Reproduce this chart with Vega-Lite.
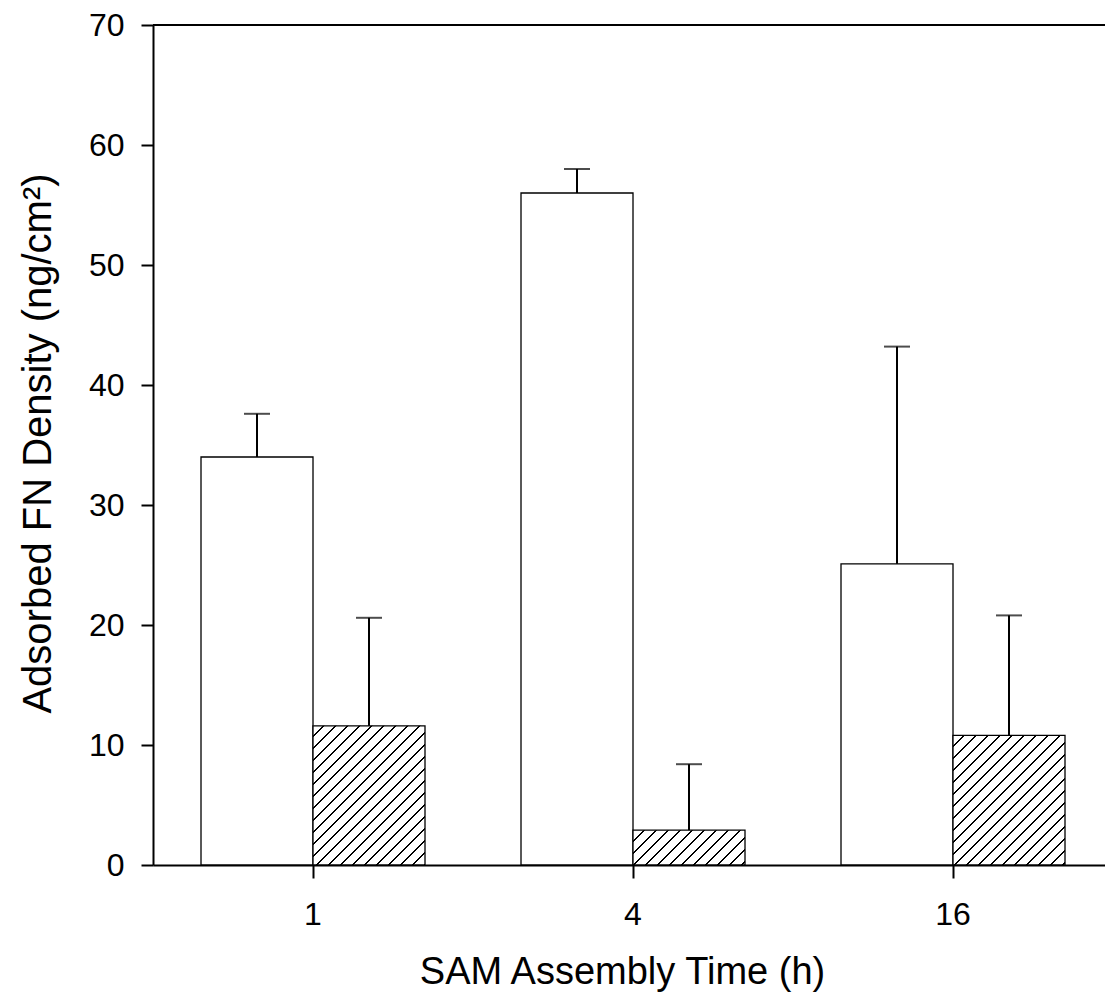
{
  "$schema": "https://vega.github.io/schema/vega-lite/v6.json",
  "width": 952,
  "height": 840,
  "autosize": "none",
  "padding": {"left": 153, "top": 25, "right": 0, "bottom": 130},
  "background": "white",
  "config": {
    "view": {"stroke": null},
    "axis": {"labelFont": "Liberation Sans", "titleFont": "Liberation Sans", "titleFontWeight": "normal", "labelColor": "black", "titleColor": "black", "domainColor": "black", "tickColor": "black", "grid": false}
  },
  "data": {"values": [
    {"time": "1", "group": "A", "value": 34.0, "upper": 37.6},
    {"time": "1", "group": "B", "value": 11.6, "upper": 20.6},
    {"time": "4", "group": "A", "value": 56.0, "upper": 58.0},
    {"time": "4", "group": "B", "value": 2.9, "upper": 8.4},
    {"time": "16", "group": "A", "value": 25.1, "upper": 43.2},
    {"time": "16", "group": "B", "value": 10.8, "upper": 20.8}
  ]},
  "layer": [
    {
      "mark": {"type": "bar", "stroke": "black", "strokeWidth": 1.3},
      "encoding": {
        "x": {"field": "time", "type": "nominal", "sort": ["1", "4", "16"],
          "scale": {"type": "band", "paddingInner": 0.3, "paddingOuter": 0.1375, "align": 0.5455},
          "axis": {"title": "SAM Assembly Time (h)", "labelAngle": 0, "labelFontSize": 32, "labelPadding": 21, "tickSize": 13, "tickWidth": 2, "domainWidth": 2, "titleFontSize": 38, "titleX": 469, "titleY": 118, "titleBaseline": "alphabetic", "titleAlign": "center"}},
        "xOffset": {"field": "group", "type": "nominal", "scale": {"paddingInner": 0, "paddingOuter": 0}},
        "y": {"field": "value", "type": "quantitative",
          "scale": {"domain": [0, 70], "nice": false},
          "axis": {"title": "Adsorbed FN Density (ng/cm²)", "values": [0, 10, 20, 30, 40, 50, 60, 70], "labelFontSize": 32, "labelPadding": 17, "tickSize": 12, "tickWidth": 2, "domainWidth": 2, "titleFontSize": 40, "titleX": -103, "titleY": 418, "titleBaseline": "alphabetic", "titleAlign": "center", "titleAngle": -90}},
        "fill": {
          "condition": [
            {"test": "datum.group == 'B' && datum.time == '1'", "value": {"gradient": "linear", "x1": 0, "y1": 0, "x2": 0.9263, "y2": 1.1513, "stops": [{"offset":0,"color":"white"},{"offset":0.03788,"color":"white"},{"offset":0.03788,"color":"black"},{"offset":0.04545,"color":"black"},{"offset":0.04545,"color":"white"},{"offset":0.08333,"color":"white"},{"offset":0.08333,"color":"black"},{"offset":0.09091,"color":"black"},{"offset":0.09091,"color":"white"},{"offset":0.12879,"color":"white"},{"offset":0.12879,"color":"black"},{"offset":0.13636,"color":"black"},{"offset":0.13636,"color":"white"},{"offset":0.17424,"color":"white"},{"offset":0.17424,"color":"black"},{"offset":0.18182,"color":"black"},{"offset":0.18182,"color":"white"},{"offset":0.2197,"color":"white"},{"offset":0.2197,"color":"black"},{"offset":0.22727,"color":"black"},{"offset":0.22727,"color":"white"},{"offset":0.26515,"color":"white"},{"offset":0.26515,"color":"black"},{"offset":0.27273,"color":"black"},{"offset":0.27273,"color":"white"},{"offset":0.31061,"color":"white"},{"offset":0.31061,"color":"black"},{"offset":0.31818,"color":"black"},{"offset":0.31818,"color":"white"},{"offset":0.35606,"color":"white"},{"offset":0.35606,"color":"black"},{"offset":0.36364,"color":"black"},{"offset":0.36364,"color":"white"},{"offset":0.40152,"color":"white"},{"offset":0.40152,"color":"black"},{"offset":0.40909,"color":"black"},{"offset":0.40909,"color":"white"},{"offset":0.44697,"color":"white"},{"offset":0.44697,"color":"black"},{"offset":0.45455,"color":"black"},{"offset":0.45455,"color":"white"},{"offset":0.49242,"color":"white"},{"offset":0.49242,"color":"black"},{"offset":0.5,"color":"black"},{"offset":0.5,"color":"white"},{"offset":0.53788,"color":"white"},{"offset":0.53788,"color":"black"},{"offset":0.54545,"color":"black"},{"offset":0.54545,"color":"white"},{"offset":0.58333,"color":"white"},{"offset":0.58333,"color":"black"},{"offset":0.59091,"color":"black"},{"offset":0.59091,"color":"white"},{"offset":0.62879,"color":"white"},{"offset":0.62879,"color":"black"},{"offset":0.63636,"color":"black"},{"offset":0.63636,"color":"white"},{"offset":0.67424,"color":"white"},{"offset":0.67424,"color":"black"},{"offset":0.68182,"color":"black"},{"offset":0.68182,"color":"white"},{"offset":0.7197,"color":"white"},{"offset":0.7197,"color":"black"},{"offset":0.72727,"color":"black"},{"offset":0.72727,"color":"white"},{"offset":0.76515,"color":"white"},{"offset":0.76515,"color":"black"},{"offset":0.77273,"color":"black"},{"offset":0.77273,"color":"white"},{"offset":0.81061,"color":"white"},{"offset":0.81061,"color":"black"},{"offset":0.81818,"color":"black"},{"offset":0.81818,"color":"white"},{"offset":0.85606,"color":"white"},{"offset":0.85606,"color":"black"},{"offset":0.86364,"color":"black"},{"offset":0.86364,"color":"white"},{"offset":0.90152,"color":"white"},{"offset":0.90152,"color":"black"},{"offset":0.90909,"color":"black"},{"offset":0.90909,"color":"white"},{"offset":0.94697,"color":"white"},{"offset":0.94697,"color":"black"},{"offset":0.95455,"color":"black"},{"offset":0.95455,"color":"white"},{"offset":0.99242,"color":"white"},{"offset":0.99242,"color":"black"},{"offset":1,"color":"black"}]}},
            {"test": "datum.group == 'B' && datum.time == '4'", "value": {"gradient": "linear", "x1": 0, "y1": 0, "x2": 2.1497, "y2": 0.6679, "stops": [{"offset":0,"color":"white"},{"offset":0.03788,"color":"white"},{"offset":0.03788,"color":"black"},{"offset":0.04545,"color":"black"},{"offset":0.04545,"color":"white"},{"offset":0.08333,"color":"white"},{"offset":0.08333,"color":"black"},{"offset":0.09091,"color":"black"},{"offset":0.09091,"color":"white"},{"offset":0.12879,"color":"white"},{"offset":0.12879,"color":"black"},{"offset":0.13636,"color":"black"},{"offset":0.13636,"color":"white"},{"offset":0.17424,"color":"white"},{"offset":0.17424,"color":"black"},{"offset":0.18182,"color":"black"},{"offset":0.18182,"color":"white"},{"offset":0.2197,"color":"white"},{"offset":0.2197,"color":"black"},{"offset":0.22727,"color":"black"},{"offset":0.22727,"color":"white"},{"offset":0.26515,"color":"white"},{"offset":0.26515,"color":"black"},{"offset":0.27273,"color":"black"},{"offset":0.27273,"color":"white"},{"offset":0.31061,"color":"white"},{"offset":0.31061,"color":"black"},{"offset":0.31818,"color":"black"},{"offset":0.31818,"color":"white"},{"offset":0.35606,"color":"white"},{"offset":0.35606,"color":"black"},{"offset":0.36364,"color":"black"},{"offset":0.36364,"color":"white"},{"offset":0.40152,"color":"white"},{"offset":0.40152,"color":"black"},{"offset":0.40909,"color":"black"},{"offset":0.40909,"color":"white"},{"offset":0.44697,"color":"white"},{"offset":0.44697,"color":"black"},{"offset":0.45455,"color":"black"},{"offset":0.45455,"color":"white"},{"offset":0.49242,"color":"white"},{"offset":0.49242,"color":"black"},{"offset":0.5,"color":"black"},{"offset":0.5,"color":"white"},{"offset":0.53788,"color":"white"},{"offset":0.53788,"color":"black"},{"offset":0.54545,"color":"black"},{"offset":0.54545,"color":"white"},{"offset":0.58333,"color":"white"},{"offset":0.58333,"color":"black"},{"offset":0.59091,"color":"black"},{"offset":0.59091,"color":"white"},{"offset":0.62879,"color":"white"},{"offset":0.62879,"color":"black"},{"offset":0.63636,"color":"black"},{"offset":0.63636,"color":"white"},{"offset":0.67424,"color":"white"},{"offset":0.67424,"color":"black"},{"offset":0.68182,"color":"black"},{"offset":0.68182,"color":"white"},{"offset":0.7197,"color":"white"},{"offset":0.7197,"color":"black"},{"offset":0.72727,"color":"black"},{"offset":0.72727,"color":"white"},{"offset":0.76515,"color":"white"},{"offset":0.76515,"color":"black"},{"offset":0.77273,"color":"black"},{"offset":0.77273,"color":"white"},{"offset":0.81061,"color":"white"},{"offset":0.81061,"color":"black"},{"offset":0.81818,"color":"black"},{"offset":0.81818,"color":"white"},{"offset":0.85606,"color":"white"},{"offset":0.85606,"color":"black"},{"offset":0.86364,"color":"black"},{"offset":0.86364,"color":"white"},{"offset":0.90152,"color":"white"},{"offset":0.90152,"color":"black"},{"offset":0.90909,"color":"black"},{"offset":0.90909,"color":"white"},{"offset":0.94697,"color":"white"},{"offset":0.94697,"color":"black"},{"offset":0.95455,"color":"black"},{"offset":0.95455,"color":"white"},{"offset":0.99242,"color":"white"},{"offset":0.99242,"color":"black"},{"offset":1,"color":"black"}]}},
            {"test": "datum.group == 'B' && datum.time == '16'", "value": {"gradient": "linear", "x1": 0, "y1": 0, "x2": 1.0078, "y2": 1.1661, "stops": [{"offset":0,"color":"white"},{"offset":0.03788,"color":"white"},{"offset":0.03788,"color":"black"},{"offset":0.04545,"color":"black"},{"offset":0.04545,"color":"white"},{"offset":0.08333,"color":"white"},{"offset":0.08333,"color":"black"},{"offset":0.09091,"color":"black"},{"offset":0.09091,"color":"white"},{"offset":0.12879,"color":"white"},{"offset":0.12879,"color":"black"},{"offset":0.13636,"color":"black"},{"offset":0.13636,"color":"white"},{"offset":0.17424,"color":"white"},{"offset":0.17424,"color":"black"},{"offset":0.18182,"color":"black"},{"offset":0.18182,"color":"white"},{"offset":0.2197,"color":"white"},{"offset":0.2197,"color":"black"},{"offset":0.22727,"color":"black"},{"offset":0.22727,"color":"white"},{"offset":0.26515,"color":"white"},{"offset":0.26515,"color":"black"},{"offset":0.27273,"color":"black"},{"offset":0.27273,"color":"white"},{"offset":0.31061,"color":"white"},{"offset":0.31061,"color":"black"},{"offset":0.31818,"color":"black"},{"offset":0.31818,"color":"white"},{"offset":0.35606,"color":"white"},{"offset":0.35606,"color":"black"},{"offset":0.36364,"color":"black"},{"offset":0.36364,"color":"white"},{"offset":0.40152,"color":"white"},{"offset":0.40152,"color":"black"},{"offset":0.40909,"color":"black"},{"offset":0.40909,"color":"white"},{"offset":0.44697,"color":"white"},{"offset":0.44697,"color":"black"},{"offset":0.45455,"color":"black"},{"offset":0.45455,"color":"white"},{"offset":0.49242,"color":"white"},{"offset":0.49242,"color":"black"},{"offset":0.5,"color":"black"},{"offset":0.5,"color":"white"},{"offset":0.53788,"color":"white"},{"offset":0.53788,"color":"black"},{"offset":0.54545,"color":"black"},{"offset":0.54545,"color":"white"},{"offset":0.58333,"color":"white"},{"offset":0.58333,"color":"black"},{"offset":0.59091,"color":"black"},{"offset":0.59091,"color":"white"},{"offset":0.62879,"color":"white"},{"offset":0.62879,"color":"black"},{"offset":0.63636,"color":"black"},{"offset":0.63636,"color":"white"},{"offset":0.67424,"color":"white"},{"offset":0.67424,"color":"black"},{"offset":0.68182,"color":"black"},{"offset":0.68182,"color":"white"},{"offset":0.7197,"color":"white"},{"offset":0.7197,"color":"black"},{"offset":0.72727,"color":"black"},{"offset":0.72727,"color":"white"},{"offset":0.76515,"color":"white"},{"offset":0.76515,"color":"black"},{"offset":0.77273,"color":"black"},{"offset":0.77273,"color":"white"},{"offset":0.81061,"color":"white"},{"offset":0.81061,"color":"black"},{"offset":0.81818,"color":"black"},{"offset":0.81818,"color":"white"},{"offset":0.85606,"color":"white"},{"offset":0.85606,"color":"black"},{"offset":0.86364,"color":"black"},{"offset":0.86364,"color":"white"},{"offset":0.90152,"color":"white"},{"offset":0.90152,"color":"black"},{"offset":0.90909,"color":"black"},{"offset":0.90909,"color":"white"},{"offset":0.94697,"color":"white"},{"offset":0.94697,"color":"black"},{"offset":0.95455,"color":"black"},{"offset":0.95455,"color":"white"},{"offset":0.99242,"color":"white"},{"offset":0.99242,"color":"black"},{"offset":1,"color":"black"}]}}
          ],
          "value": "white"
        }
      }
    },
    {
      "mark": {"type": "rule", "color": "black", "strokeWidth": 2},
      "encoding": {
        "x": {"field": "time", "type": "nominal", "sort": ["1", "4", "16"]},
        "xOffset": {"field": "group", "type": "nominal"},
        "y": {"field": "value", "type": "quantitative"},
        "y2": {"field": "upper"}
      }
    },
    {
      "mark": {"type": "tick", "color": "black", "orient": "horizontal", "size": 26, "thickness": 2},
      "encoding": {
        "x": {"field": "time", "type": "nominal", "sort": ["1", "4", "16"]},
        "xOffset": {"field": "group", "type": "nominal"},
        "y": {"field": "upper", "type": "quantitative"}
      }
    },
    {
      "data": {"values": [{}]},
      "mark": {"type": "rule", "color": "black", "strokeWidth": 2},
      "encoding": {
        "y": {"datum": 70, "type": "quantitative"}
      }
    }
  ]
}
